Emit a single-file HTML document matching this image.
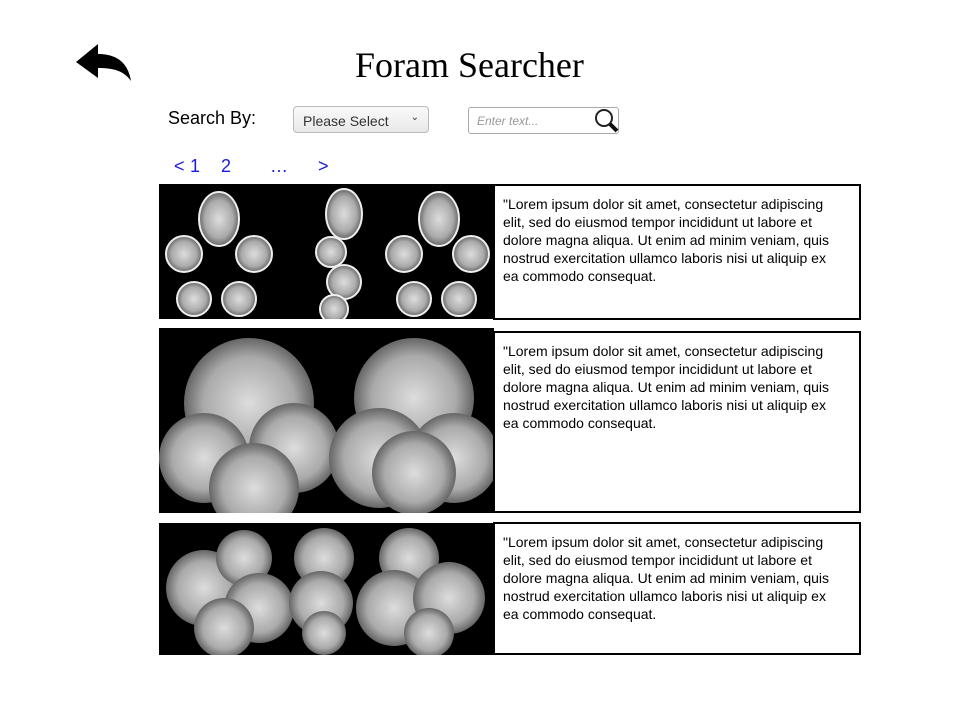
<!DOCTYPE html>
<html><head><meta charset="utf-8"><style>
body{margin:0;width:960px;height:720px;background:#fff;position:relative;overflow:hidden;font-family:"Liberation Sans",sans-serif}
.a{position:absolute}
.txt{position:absolute;border:2px solid #000;box-sizing:border-box;background:#fff;padding:9px 22px 9px 8px;font-size:14px;line-height:18px;color:#000}
.img{position:absolute;background:#000;overflow:hidden}
.pg{color:#1a1adc;font-size:18px;position:absolute;top:156px}
</style></head><body>
<svg class="a" style="left:76px;top:44px" width="56" height="38" viewBox="0 0 56 38"><path d="M0 18 L22 0 L22 10 C40 10 52 18 55 37 C48 27 38 24 22 24 L22 34 Z" fill="#000"/></svg>
<div class="a" style="left:355px;top:44px;font-family:'Liberation Serif',serif;font-size:36px;">Foram Searcher</div>
<div class="a" style="left:168px;top:108px;font-size:18px">Search By:</div>
<div class="a" style="left:293px;top:106px;width:136px;height:27px;box-sizing:border-box;border:1px solid #bbb;border-radius:4px;background:linear-gradient(#fafafa,#e8e8e8);font-size:14px;color:#333;padding:6px 9px">Please Select <span style="position:absolute;right:9px;top:5px;font-size:10px">&#8964;</span></div>
<div class="a" style="left:468px;top:107px;width:151px;height:27px;box-sizing:border-box;border:1px solid #aaa;border-radius:3px;font-size:12px;color:#999;font-style:italic;padding:6px 8px">Enter text...</div>
<svg class="a" style="left:594px;top:108px" width="26" height="26"><circle cx="10" cy="10" r="8" fill="#fff" stroke="#222" stroke-width="2"/><line x1="16" y1="16" x2="23" y2="23" stroke="#111" stroke-width="4"/></svg>
<div class="pg" style="left:174px">&lt;</div>
<div class="pg" style="left:190px">1</div>
<div class="pg" style="left:221px">2</div>
<div class="pg" style="left:270px">…</div>
<div class="pg" style="left:318px">&gt;</div>

<svg width="0" height="0" style="position:absolute"><defs><radialGradient id="g"><stop offset="0" stop-color="#ddd"/><stop offset="0.7" stop-color="#aaa"/><stop offset="1" stop-color="#666"/></radialGradient></defs></svg>

<div class="img" style="left:159px;top:184px;width:335px;height:135px">
<svg width="335" height="135"><g fill="url(#g)" stroke="#eee" stroke-width="2">
<ellipse cx="60" cy="35" rx="20" ry="27"/><circle cx="25" cy="70" r="18"/><circle cx="95" cy="70" r="18"/><circle cx="35" cy="115" r="17"/><circle cx="80" cy="115" r="17"/>
<ellipse cx="185" cy="30" rx="18" ry="25"/><circle cx="172" cy="68" r="15"/><circle cx="185" cy="98" r="17"/><circle cx="175" cy="125" r="14"/>
<ellipse cx="280" cy="35" rx="20" ry="27"/><circle cx="245" cy="70" r="18"/><circle cx="312" cy="70" r="18"/><circle cx="255" cy="115" r="17"/><circle cx="300" cy="115" r="17"/></g></svg></div>
<div class="txt" style="left:493px;top:184px;width:368px;height:136px">"Lorem ipsum dolor sit amet, consectetur adipiscing elit, sed do eiusmod tempor incididunt ut labore et dolore magna aliqua. Ut enim ad minim veniam, quis nostrud exercitation ullamco laboris nisi ut aliquip ex ea commodo consequat.</div>

<div class="img" style="left:159px;top:328px;width:335px;height:185px">
<svg width="335" height="185"><g fill="url(#g)">
<circle cx="90" cy="75" r="65"/><circle cx="45" cy="130" r="45"/><circle cx="135" cy="120" r="45"/><circle cx="95" cy="160" r="45"/>
<circle cx="255" cy="70" r="60"/><circle cx="220" cy="130" r="50"/><circle cx="295" cy="130" r="45"/><circle cx="255" cy="145" r="42"/></g></svg></div>
<div class="txt" style="left:493px;top:331px;width:368px;height:182px">"Lorem ipsum dolor sit amet, consectetur adipiscing elit, sed do eiusmod tempor incididunt ut labore et dolore magna aliqua. Ut enim ad minim veniam, quis nostrud exercitation ullamco laboris nisi ut aliquip ex ea commodo consequat.</div>

<div class="img" style="left:159px;top:523px;width:335px;height:132px">
<svg width="335" height="132"><g fill="url(#g)">
<circle cx="45" cy="65" r="38"/><circle cx="85" cy="35" r="28"/><circle cx="100" cy="85" r="35"/><circle cx="65" cy="105" r="30"/>
<circle cx="165" cy="35" r="30"/><circle cx="162" cy="80" r="32"/><circle cx="165" cy="110" r="22"/>
<circle cx="250" cy="35" r="30"/><circle cx="235" cy="85" r="38"/><circle cx="290" cy="75" r="36"/><circle cx="270" cy="110" r="25"/></g></svg></div>
<div class="txt" style="left:493px;top:522px;width:368px;height:133px">"Lorem ipsum dolor sit amet, consectetur adipiscing elit, sed do eiusmod tempor incididunt ut labore et dolore magna aliqua. Ut enim ad minim veniam, quis nostrud exercitation ullamco laboris nisi ut aliquip ex ea commodo consequat.</div>
</body></html>
